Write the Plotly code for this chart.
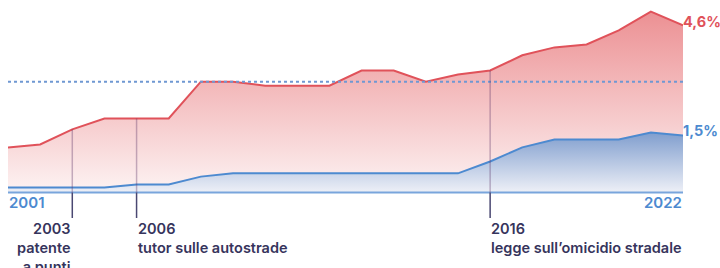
import plotly.graph_objects as go

years = list(range(2001, 2023))
red_values = [1.25, 1.33, 1.75, 2.05, 2.05, 2.05, 3.07, 3.07, 2.96, 2.96, 2.96,
              3.38, 3.38, 3.07, 3.27, 3.38, 3.80, 4.02, 4.10, 4.49, 5.01, 4.63]
blue_values = [0.14, 0.14, 0.14, 0.14, 0.22, 0.22, 0.44, 0.53, 0.53, 0.53, 0.53,
               0.53, 0.53, 0.53, 0.53, 0.86, 1.25, 1.47, 1.47, 1.47, 1.66, 1.58]
red_label = "4,6%"
blue_label = "1,5%"
reference_year = 2007
event_x = [2003, 2005, 2016]
event_labels = ["2003<br>patente<br>a punti", "2006<br>tutor sulle autostrade",
                "2016<br>legge sull’omicidio stradale"]
event_align = ["right", "left", "left"]

RED = "#e0525a"
BLUE = "#4d8ad0"
NAVY = "#36345c"
FONT = "Inter"

# layout geometry (body margin removed, page px == figure px)
FIG_W, FIG_H = 720, 268
PLOT_L, PLOT_R = 8, 683
PLOT_H = 200
ZERO_PX = 192.5
PX_PER_UNIT = 36.1
y_bottom = -(PLOT_H - ZERO_PX) / PX_PER_UNIT
y_top = ZERO_PX / PX_PER_UNIT


def paper_y(px):
    return (PLOT_H - px) / PLOT_H


fig = go.Figure()

fig.add_trace(go.Scatter(
    x=years, y=blue_values, mode="lines",
    line=dict(color=BLUE, width=2),
    fill="tozeroy",
    fillgradient=dict(type="vertical", start=0, stop=max(blue_values),
                      colorscale=[[0, "rgb(238,240,247)"], [1, "rgb(128,158,206)"]]),
    hoverinfo="skip",
))
fig.add_trace(go.Scatter(
    x=years, y=red_values, mode="lines",
    line=dict(color=RED, width=2),
    fill="tonexty",
    fillgradient=dict(type="vertical", start=0, stop=max(red_values),
                      colorscale=[[0, "rgb(253,243,243)"], [1, "rgb(236,144,147)"]]),
    hoverinfo="skip",
))

shapes = []
ref_val = red_values[years.index(reference_year)]
shapes.append(dict(type="line", xref="x", yref="y", x0=years[0], x1=years[-1],
                   y0=ref_val, y1=ref_val,
                   line=dict(color="#6f98d2", width=2, dash="dot"), layer="above"))
shapes.append(dict(type="line", xref="x", yref="y", x0=years[0], x1=years[-1],
                   y0=0, y1=0, line=dict(color="#79a5dc", width=2), layer="above"))

annotations = []
for ex, lab, al in zip(event_x, event_labels, event_align):
    rv = red_values[years.index(ex)]
    shapes.append(dict(type="line", xref="x", yref="y", x0=ex, x1=ex, y0=0, y1=rv,
                       line=dict(color="rgba(90,50,100,0.35)", width=1.5), layer="above"))
    shapes.append(dict(type="line", xref="x", yref="paper", x0=ex, x1=ex,
                       y0=paper_y(ZERO_PX), y1=paper_y(218),
                       line=dict(color="#4a4872", width=1.5), layer="above"))
    annotations.append(dict(
        x=ex, xref="x", y=paper_y(218), yref="paper",
        xanchor="right" if al == "right" else "left", yanchor="top",
        xshift=1 if al == "right" else -1,
        text=lab, showarrow=False, align=al,
        font=dict(family=FONT, size=14.5, color=NAVY, weight=600),
    ))

annotations.append(dict(x=years[0], xref="x", y=paper_y(203), yref="paper",
                        xanchor="left", yanchor="middle", xshift=-1,
                        text=str(years[0]), showarrow=False,
                        font=dict(family=FONT, size=15, color=BLUE, weight=600)))
annotations.append(dict(x=years[-1], xref="x", y=paper_y(203), yref="paper",
                        xanchor="right", yanchor="middle", xshift=1,
                        text=str(years[-1]), showarrow=False,
                        font=dict(family=FONT, size=15, color=BLUE, weight=600)))
annotations.append(dict(x=years[-1], xref="x", y=red_values[-1], yref="y",
                        xanchor="left", yanchor="middle", xshift=-2, yshift=4,
                        text=red_label, showarrow=False,
                        font=dict(family=FONT, size=14.5, color=RED, weight=700)))
annotations.append(dict(x=years[-1], xref="x", y=blue_values[-1], yref="y",
                        xanchor="left", yanchor="middle", xshift=-2, yshift=5,
                        text=blue_label, showarrow=False,
                        font=dict(family=FONT, size=14.5, color=BLUE, weight=700)))

fig.update_layout(
    width=FIG_W, height=FIG_H,
    margin=dict(l=PLOT_L, r=FIG_W - PLOT_R, t=0, b=FIG_H - PLOT_H),
    paper_bgcolor="white", plot_bgcolor="white",
    showlegend=False,
    xaxis=dict(visible=False, range=[years[0], years[-1]], fixedrange=True),
    yaxis=dict(visible=False, range=[y_bottom, y_top], fixedrange=True),
    shapes=shapes, annotations=annotations,
    font=dict(family=FONT),
)

fig.write_html("out.html", config={"displayModeBar": False},
               post_script="document.body.style.margin='0px';document.body.style.overflow='hidden';")
